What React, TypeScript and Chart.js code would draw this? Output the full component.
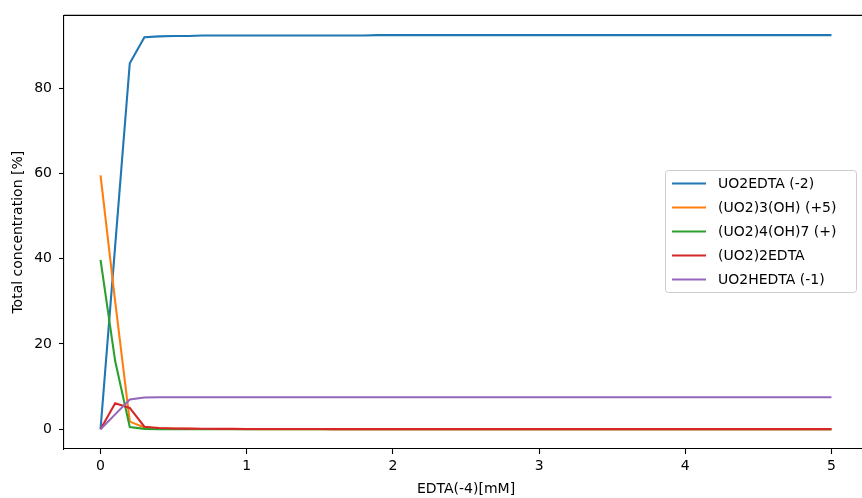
import React, { useEffect, useRef } from "react";
import { Chart, registerables } from "chart.js";

Chart.register(...registerables);

// EDTA(-4) concentration in mM
const edta = [
  0, 0.1, 0.2, 0.3, 0.4, 0.5, 0.6, 0.7, 0.8, 0.9,
  1.0, 1.1, 1.2, 1.3, 1.4, 1.5, 1.6, 1.7, 1.8, 1.9,
  2.0, 2.1, 2.2, 2.3, 2.4, 2.5, 2.6, 2.7, 2.8, 2.9,
  3.0, 3.1, 3.2, 3.3, 3.4, 3.5, 3.6, 3.7, 3.8, 3.9,
  4.0, 4.1, 4.2, 4.3, 4.4, 4.5, 4.6, 4.7, 4.8, 4.9,
  5.0,
];

const uo2edta = [
  0, 43, 85.8, 91.9, 92.1, 92.2, 92.2, 92.3, 92.3, 92.3,
  92.3, 92.3, 92.3, 92.3, 92.3, 92.3, 92.3, 92.3, 92.3, 92.4,
  92.4, 92.4, 92.4, 92.4, 92.4, 92.4, 92.4, 92.4, 92.4, 92.4,
  92.4, 92.4, 92.4, 92.4, 92.4, 92.4, 92.4, 92.4, 92.4, 92.4,
  92.4, 92.4, 92.4, 92.4, 92.4, 92.4, 92.4, 92.4, 92.4, 92.4,
  92.4,
];

const uo2_3oh = [
  59.5, 30, 1.8, 0.4, 0.2, 0.15, 0.1, 0.08, 0.07, 0.06,
  0.05, 0.05, 0.04, 0.04, 0.04, 0.03, 0.03, 0.03, 0.03, 0.03,
  0.03, 0.02, 0.02, 0.02, 0.02, 0.02, 0.02, 0.02, 0.02, 0.02,
  0.02, 0.02, 0.02, 0.02, 0.02, 0.02, 0.02, 0.02, 0.02, 0.02,
  0.02, 0.02, 0.02, 0.02, 0.02, 0.02, 0.02, 0.02, 0.02, 0.02,
  0.02,
];

const uo2_4oh7 = [
  39.7, 16, 0.5, 0.1, 0.05, 0.02, 0.01, 0, 0, 0,
  0, 0, 0, 0, 0, 0, 0, 0, 0, 0,
  0, 0, 0, 0, 0, 0, 0, 0, 0, 0,
  0, 0, 0, 0, 0, 0, 0, 0, 0, 0,
  0, 0, 0, 0, 0, 0, 0, 0, 0, 0,
  0,
];

const uo2_2edta = [
  0, 6.1, 5.0, 0.6, 0.3, 0.2, 0.15, 0.12, 0.1, 0.09,
  0.08, 0.07, 0.07, 0.06, 0.06, 0.06, 0.05, 0.05, 0.05, 0.05,
  0.05, 0.05, 0.05, 0.05, 0.05, 0.05, 0.05, 0.05, 0.05, 0.05,
  0.05, 0.05, 0.05, 0.05, 0.05, 0.05, 0.05, 0.05, 0.05, 0.05,
  0.05, 0.05, 0.05, 0.05, 0.05, 0.05, 0.05, 0.05, 0.05, 0.05,
  0.05,
];

const uo2hedta = [
  0, 3.5, 7.0, 7.45, 7.5, 7.5, 7.5, 7.5, 7.5, 7.5,
  7.5, 7.5, 7.5, 7.5, 7.5, 7.5, 7.5, 7.5, 7.5, 7.5,
  7.5, 7.5, 7.5, 7.5, 7.5, 7.5, 7.5, 7.5, 7.5, 7.5,
  7.5, 7.5, 7.5, 7.5, 7.5, 7.5, 7.5, 7.5, 7.5, 7.5,
  7.5, 7.5, 7.5, 7.5, 7.5, 7.5, 7.5, 7.5, 7.5, 7.5,
  7.5,
];

const seriesNames = [
  "UO2EDTA (-2)",
  "(UO2)3(OH) (+5)",
  "(UO2)4(OH)7 (+)",
  "(UO2)2EDTA",
  "UO2HEDTA (-1)",
];
const seriesValues = [uo2edta, uo2_3oh, uo2_4oh7, uo2_2edta, uo2hedta];
const seriesColors = ["#1f77b4", "#ff7f0e", "#2ca02c", "#d62728", "#9467bd"];

const xTicks = [0, 1, 2, 3, 4, 5];
const yTicks = [0, 20, 40, 60, 80];

const xTitle = "EDTA(-4)[mM]";
const yTitle = "Total concentration [%]";

const FONT = "DejaVu Sans";

const framePlugin = {
  id: "frameAndLegend",
  afterDraw(chart: any) {
    const { ctx, chartArea } = chart;
    ctx.save();
    // top spine
    ctx.strokeStyle = "#000";
    ctx.lineWidth = 1.1;
    ctx.beginPath();
    ctx.moveTo(chartArea.left, chartArea.top);
    ctx.lineTo(chartArea.right + 10, chartArea.top);
    ctx.stroke();

    // axis titles
    ctx.fillStyle = "#000";
    ctx.font = `14px "${FONT}"`;
    ctx.textAlign = "center";
    ctx.textBaseline = "middle";
    ctx.fillText(xTitle, 466, 489);
    ctx.translate(18, (chartArea.top + chartArea.bottom) / 2);
    ctx.rotate(-Math.PI / 2);
    ctx.fillText(yTitle, 0, 0);
    ctx.restore();

    // legend box
    ctx.save();
    const bx = 665.5, by = 170.5, bw = 191, bh = 122, r = 3;
    ctx.beginPath();
    ctx.moveTo(bx + r, by);
    ctx.lineTo(bx + bw - r, by);
    ctx.arcTo(bx + bw, by, bx + bw, by + r, r);
    ctx.lineTo(bx + bw, by + bh - r);
    ctx.arcTo(bx + bw, by + bh, bx + bw - r, by + bh, r);
    ctx.lineTo(bx + r, by + bh);
    ctx.arcTo(bx, by + bh, bx, by + bh - r, r);
    ctx.lineTo(bx, by + r);
    ctx.arcTo(bx, by, bx + r, by, r);
    ctx.closePath();
    ctx.fillStyle = "rgba(255,255,255,0.8)";
    ctx.fill();
    ctx.strokeStyle = "#cccccc";
    ctx.lineWidth = 1;
    ctx.stroke();

    ctx.font = `14px "${FONT}"`;
    ctx.textAlign = "left";
    ctx.textBaseline = "middle";
    seriesNames.forEach((name, i) => {
      const y = 183.5 + i * 24;
      ctx.strokeStyle = seriesColors[i];
      ctx.lineWidth = 2.1;
      ctx.beginPath();
      ctx.moveTo(672, y);
      ctx.lineTo(706, y);
      ctx.stroke();
      ctx.fillStyle = "#000";
      ctx.fillText(name, 718, y + 1);
    });
    ctx.restore();
  },
};

export default function App() {
  const ref = useRef<HTMLCanvasElement>(null);

  useEffect(() => {
    if (!ref.current) return;
    const chart = new Chart(ref.current, {
      type: "line",
      data: {
        datasets: seriesNames.map((name, i) => ({
          label: name,
          data: edta.map((x, j) => ({ x, y: seriesValues[i][j] })),
          borderColor: seriesColors[i],
          backgroundColor: seriesColors[i],
          borderWidth: 2.1,
          pointRadius: 0,
          tension: 0,
          fill: false,
          order: seriesNames.length - i,
        })),
      },
      options: {
        responsive: false,
        animation: false,
        layout: { padding: { top: 14, right: 2, left: 0, bottom: 0 } },
        plugins: {
          legend: { display: false },
          tooltip: { enabled: false },
          title: { display: false },
        },
        scales: {
          x: {
            type: "linear",
            min: -0.25,
            max: 5.25,
            afterBuildTicks: (s: any) => {
              s.ticks = xTicks.map((v) => ({ value: v }));
            },
            afterFit: (s: any) => {
              s.height = 49;
            },
            grid: {
              drawOnChartArea: false,
              drawTicks: true,
              tickLength: 5,
              tickWidth: 1.1,
              tickColor: "#000",
            },
            border: { display: true, color: "#000", width: 1.1 },
            ticks: {
              color: "#000",
              font: { family: FONT, size: 14 },
              padding: 4,
              maxRotation: 0,
              callback: (v: any) => String(v),
            },
          },
          y: {
            type: "linear",
            min: -4.62,
            max: 97.02,
            afterBuildTicks: (s: any) => {
              s.ticks = yTicks.map((v) => ({ value: v }));
            },
            afterFit: (s: any) => {
              s.width = 64;
            },
            grid: {
              drawOnChartArea: false,
              drawTicks: true,
              tickLength: 5,
              tickWidth: 1.1,
              tickColor: "#000",
            },
            border: { display: true, color: "#000", width: 1.1 },
            ticks: {
              color: "#000",
              font: { family: FONT, size: 14 },
              padding: 7,
              callback: (v: any) => String(v),
            },
          },
        },
      },
      plugins: [framePlugin],
    });
    return () => chart.destroy();
  }, []);

  return (
    <div
      style={{
        position: "fixed",
        left: 0,
        top: 0,
        width: 862,
        height: 498,
        overflow: "hidden",
        background: "#fff",
      }}
    >
      <canvas ref={ref} width={870} height={498} style={{ display: "block" }} />
    </div>
  );
}
